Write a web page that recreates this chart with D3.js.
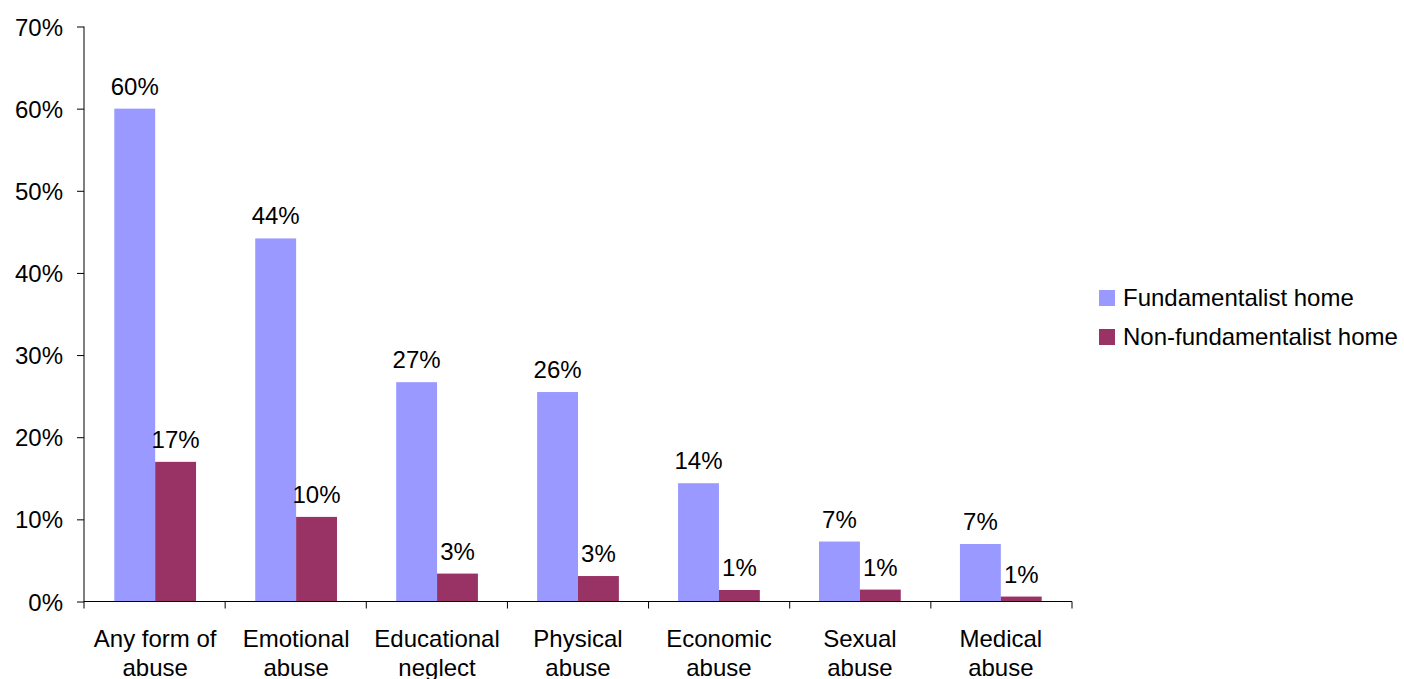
<!DOCTYPE html>
<html>
<head>
<meta charset="utf-8">
<script src="https://cdn.jsdelivr.net/npm/d3@7"></script>
<style>
  body { margin: 0; background: #fff; }
  text { font-family: "Liberation Sans", Arial, sans-serif; fill: #000; }
</style>
</head>
<body>
<div id="chart"></div>
<script>
// categories, two lines each
var categories = [
  ["Any form of", "abuse"],
  ["Emotional", "abuse"],
  ["Educational", "neglect"],
  ["Physical", "abuse"],
  ["Economic", "abuse"],
  ["Sexual", "abuse"],
  ["Medical", "abuse"]
];
var seriesNames = ["Fundamentalist home", "Non-fundamentalist home"];
var fundamentalist = [0.600, 0.442, 0.267, 0.255, 0.144, 0.073, 0.070];
var nonFundamentalist = [0.170, 0.103, 0.034, 0.031, 0.014, 0.0145, 0.006];
var yTicks = [0, 0.1, 0.2, 0.3, 0.4, 0.5, 0.6, 0.7];
var colors = ["#9999FF", "#993366"];

var width = 1404, height = 679;
var x0 = 84, x1 = 1072, yTop = 26.5, yBottom = 601.5;

var svg = d3.select("#chart").append("svg")
  .attr("width", width)
  .attr("height", height);

var xScale = d3.scaleBand()
  .domain(d3.range(categories.length))
  .range([x0, x1])
  .paddingInner(0.42)
  .paddingOuter(0.215);

var xInner = d3.scaleBand()
  .domain([0, 1])
  .range([0, xScale.bandwidth()]);

var yScale = d3.scaleLinear().domain([0, 0.7]).range([yBottom, yTop]);

var series = [fundamentalist, nonFundamentalist];

// bars + value labels
series.forEach(function(vals, s) {
  svg.selectAll(".bar" + s)
    .data(vals)
    .enter()
    .append("rect")
      .attr("class", "bar" + s)
      .attr("x", function(d, i) { return xScale(i) + xInner(s); })
      .attr("width", xInner.bandwidth())
      .attr("y", function(d) { return yScale(d); })
      .attr("height", function(d) { return yBottom - yScale(d); })
      .style("fill", colors[s]);

  svg.selectAll(".lbl" + s)
    .data(vals)
    .enter()
    .append("text")
      .attr("class", "lbl" + s)
      .attr("x", function(d, i) { return xScale(i) + xInner(s) + xInner.bandwidth() / 2; })
      .attr("y", function(d) { return yScale(d) - 14; })
      .attr("text-anchor", "middle")
      .style("font-size", "24px")
      .text(function(d) { return Math.round(d * 100) + "%"; });
});

// y axis
var yAxis = d3.axisLeft(yScale)
  .tickValues(yTicks)
  .tickFormat(d3.format(".0%"))
  .tickSize(7)
  .tickPadding(14);

var gy = svg.append("g")
  .attr("transform", "translate(" + x0 + ",0)")
  .call(yAxis);
gy.select(".domain").attr("d", "M0," + yTop + "V" + yBottom).style("stroke", "#000");
gy.selectAll(".tick line").style("stroke", "#000");
gy.selectAll(".tick text")
  .style("font-size", "24px")
  .style("font-family", "'Liberation Sans', Arial, sans-serif")
  .attr("dy", "0.36em");

// x axis line and category ticks
svg.append("line")
  .attr("x1", x0).attr("x2", x1)
  .attr("y1", yBottom).attr("y2", yBottom)
  .style("stroke", "#000");

svg.selectAll(".xtick")
  .data(d3.range(categories.length + 1))
  .enter()
  .append("line")
    .attr("class", "xtick")
    .attr("x1", function(d) { return x0 + d * (x1 - x0) / categories.length; })
    .attr("x2", function(d) { return x0 + d * (x1 - x0) / categories.length; })
    .attr("y1", yBottom)
    .attr("y2", yBottom + 7)
    .style("stroke", "#000");

var catLabels = svg.selectAll(".cat")
  .data(categories)
  .enter()
  .append("text")
    .attr("class", "cat")
    .attr("text-anchor", "middle")
    .style("font-size", "24px")
    .attr("transform", function(d, i) {
      return "translate(" + (xScale(i) + xScale.bandwidth() / 2) + ",647)";
    });
catLabels.selectAll("tspan")
  .data(function(d) { return d; })
  .enter()
  .append("tspan")
    .attr("x", 0)
    .attr("dy", function(d, i) { return i === 0 ? 0 : 29; })
    .text(function(d) { return d; });

// legend
var legend = svg.selectAll(".legend")
  .data(seriesNames)
  .enter()
  .append("g")
    .attr("class", "legend")
    .attr("transform", function(d, i) { return "translate(1099," + (290 + i * 39) + ")"; });
legend.append("rect")
  .attr("width", 16).attr("height", 16)
  .style("fill", function(d, i) { return colors[i]; });
legend.append("text")
  .attr("x", 24)
  .attr("y", 16)
  .style("font-size", "24px")
  .text(function(d) { return d; });
</script>
</body>
</html>
